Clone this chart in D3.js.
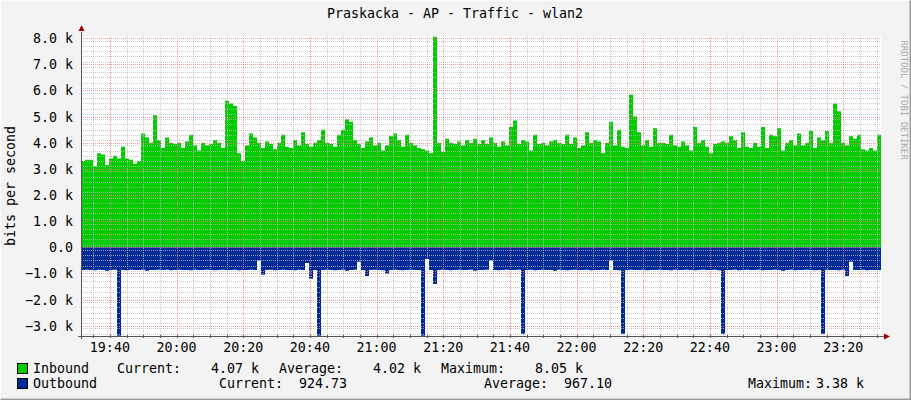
<!DOCTYPE html>
<html><head><meta charset="utf-8">
<script src="https://cdn.jsdelivr.net/npm/d3@7"></script>
<style>body{margin:0;background:#f3f3f3}svg{display:block}text{font-family:"DejaVu Sans Mono",monospace;fill:#000}</style>
</head><body><svg id="c" width="911" height="400"></svg>
<script>
const title = "Praskacka - AP - Traffic - wlan2";
const yLabel = "bits per second";
const startTime = "19:31:20";
const stepSeconds = 72;
const inbound = [
3.3,3.35,3.35,3.1,3.6,3.55,3.15,3.4,3.5,3.4,
3.85,3.4,3.35,3.2,3.3,4.35,4.2,4.0,5.05,4.1,
3.8,4.2,4.0,3.95,4.0,3.8,4.05,4.3,3.9,3.7,
4.0,3.9,3.95,4.1,4.0,3.8,5.6,5.5,5.4,3.6,
3.3,3.9,4.35,4.2,4.0,3.8,4.05,3.95,3.75,4.0,
4.3,3.85,3.8,4.1,3.9,4.4,3.95,3.85,4.0,4.1,
4.5,4.0,3.95,3.85,4.3,4.5,4.9,4.8,4.1,3.95,
3.8,4.05,4.2,3.9,4.0,3.7,3.9,4.25,4.35,4.1,
3.85,4.3,4.0,3.9,3.8,3.75,3.7,3.6,8.05,4.0,
3.65,4.15,4.0,3.95,4.05,3.9,4.1,4.0,4.15,3.95,
4.1,3.95,4.2,4.0,3.85,4.05,3.9,4.6,4.85,3.95,
4.1,4.05,3.7,4.3,3.95,4.0,3.9,4.05,4.1,4.0,
3.95,4.3,3.95,4.2,3.8,3.9,4.4,4.0,4.1,4.05,
3.6,4.0,4.8,3.9,4.5,3.85,3.8,5.83,5.0,4.4,
3.9,4.1,3.85,4.55,4.0,4.0,3.95,4.3,3.9,3.85,
4.05,3.9,3.7,4.6,4.0,4.1,3.85,3.6,3.95,4.0,
4.05,4.0,4.25,4.1,3.8,4.4,3.85,3.8,4.0,3.85,
4.6,3.8,4.3,4.25,4.55,3.7,4.0,4.1,3.9,4.35,
3.9,4.0,4.45,3.8,4.2,4.1,4.45,4.0,5.5,5.2,
4.0,3.9,4.25,4.15,4.3,3.75,3.7,3.8,3.7,4.3];
const outbound = [
0.87,0.86,0.87,0.88,0.86,0.87,0.9,0.87,0.86,3.38,
0.87,0.88,0.86,0.87,0.87,0.86,0.9,0.87,0.87,0.86,
0.87,0.86,0.88,0.87,0.86,0.87,0.87,0.88,0.86,0.87,
0.87,0.86,0.87,0.88,0.87,0.86,0.87,0.87,0.86,0.88,
0.87,0.87,0.86,0.87,0.5,1.05,0.87,0.86,0.88,0.87,
0.86,0.87,0.87,0.88,0.86,0.87,0.6,1.2,0.87,3.38,
0.87,0.86,0.87,0.88,0.87,0.86,0.9,0.87,0.86,0.55,
0.87,1.1,0.87,0.86,0.87,0.88,1.0,0.87,0.86,0.87,
0.88,0.87,0.86,0.87,0.87,3.38,0.45,0.87,1.4,0.87,
0.86,0.87,0.88,0.87,0.86,0.87,0.87,0.86,0.9,0.87,
0.87,0.86,0.5,0.87,0.88,0.87,0.86,0.87,0.87,0.86,
3.3,0.87,0.86,0.88,0.87,0.86,0.87,0.87,0.9,0.86,
0.87,0.88,0.87,0.86,0.87,0.87,0.86,0.88,0.87,0.87,
0.86,0.87,0.5,0.87,0.88,3.3,0.87,0.86,0.87,0.87,
0.86,0.88,0.87,0.87,0.86,0.87,0.87,0.88,0.86,0.87,
0.87,0.86,0.87,0.88,0.87,0.86,0.87,0.87,0.86,0.88,
3.3,0.87,0.87,0.86,0.88,0.87,0.86,0.87,0.87,0.86,
0.88,0.87,0.87,0.86,0.87,0.9,0.87,0.86,0.88,0.87,
0.87,0.86,0.87,0.88,0.87,3.3,0.86,0.87,0.87,0.88,
0.86,1.1,0.55,0.87,0.87,0.86,0.88,0.87,0.87,0.87];
const yTicks = [-3,-2,-1,0,1,2,3,4,5,6,7,8];
const xTickLabels = ["19:40","20:00","20:20","20:40","21:00","21:20","21:40","22:00","22:20","22:40","23:00","23:20"];
const legendIn = {name:"Inbound", cur:"4.07 k", avg:"4.02 k", max:"8.05 k"};
const legendOut = {name:"Outbound", cur:"924.73", avg:"967.10", max:"3.38 k"};

const svg = d3.select("#c");
const L=81,R=881,T=36,B=336;
const parse = d3.timeParse("%H:%M:%S");
const t0 = parse(startTime);
const tAt = i => new Date(t0.getTime()+i*stepSeconds*1000);
const tEnd = tAt(inbound.length);
const x = d3.scaleTime().domain([t0,tEnd]).range([L,R]);
const y = d3.scaleLinear().domain([-3.39,8.08]).range([B,T]);

// frame
svg.append("rect").attr("x",0.5).attr("y",0.5).attr("width",909).attr("height",398).attr("fill","#f3f3f3").attr("stroke","#fcfcfc");
svg.append("path").attr("d","M910.5,0.5V399.5H0.5").attr("fill","none").attr("stroke","#9a9a9a").attr("stroke-width",2);
svg.append("rect").attr("x",L).attr("y",T).attr("width",R-L).attr("height",B-T).attr("fill","#fff");

// data areas
const ext = inbound.concat([inbound[inbound.length-1]]);
const exto = outbound.concat([outbound[outbound.length-1]]);
svg.append("path").datum(ext).attr("fill","#00cc00")
 .attr("d",d3.area().curve(d3.curveStepAfter).x((d,i)=>x(tAt(i))).y0(y(0)).y1(d=>y(d)));
svg.append("path").datum(exto).attr("fill","#002a97")
 .attr("d",d3.area().curve(d3.curveStepAfter).x((d,i)=>x(tAt(i))).y0(y(0)).y1(d=>y(-d)));

// grid
const g = svg.append("g").attr("shape-rendering","crispEdges");
const minorX = x.ticks(d3.timeMinute.every(5));
minorX.forEach(t=>{ if(t.getMinutes()%20) g.append("line").attr("x1",Math.round(x(t))+0.5).attr("x2",Math.round(x(t))+0.5).attr("y1",T).attr("y2",B).attr("stroke","#bbb").attr("stroke-dasharray","1,1").attr("stroke-opacity",0.8);});
d3.range(-33,81,2).forEach(v=>{ if(v%10) { const yy=Math.round(y(v/10))+0.5; if(yy>T&&yy<B) g.append("line").attr("x1",L).attr("x2",R).attr("y1",yy).attr("y2",yy).attr("stroke","#bbb").attr("stroke-dasharray","1,1").attr("stroke-opacity",0.8);}});
const majorX = x.ticks(d3.timeMinute.every(20));
majorX.forEach(t=>g.append("line").attr("x1",Math.round(x(t))+0.5).attr("x2",Math.round(x(t))+0.5).attr("y1",T).attr("y2",B).attr("stroke","#f08080").attr("stroke-dasharray","1,1").attr("stroke-opacity",0.8));
yTicks.forEach(v=>g.append("line").attr("x1",L).attr("x2",R).attr("y1",Math.round(y(v))+0.5).attr("y2",Math.round(y(v))+0.5).attr("stroke","#f08080").attr("stroke-dasharray","1,1").attr("stroke-opacity",0.8));

// axes
const ax = svg.append("g").attr("shape-rendering","crispEdges");
ax.append("line").attr("x1",L+0.5).attr("x2",L+0.5).attr("y1",T-4).attr("y2",B+3).attr("stroke","#555");
ax.append("line").attr("x1",L-3).attr("x2",R+4).attr("y1",B+0.5).attr("y2",B+0.5).attr("stroke","#555");
minorX.forEach(t=>ax.append("line").attr("x1",Math.round(x(t))+0.5).attr("x2",Math.round(x(t))+0.5).attr("y1",B-1).attr("y2",B+2).attr("stroke","#555"));
svg.append("path").attr("d",`M${L-2.5},${T-5}L${L+3.5},${T-5}L${L+0.5},${T-11}Z`).attr("fill","#a00000");
svg.append("path").attr("d",`M${R+3},${B-2.5}L${R+3},${B+3.5}L${R+9},${B+0.5}Z`).attr("fill","#a00000");

const fs="13.3px";
yTicks.forEach(v=>svg.append("text").attr("x",73).attr("y",y(v)+5).attr("text-anchor","end").attr("font-size",fs)
  .text(v===0?"0.0":d3.format(".1f")(v)+" k"));
majorX.forEach((t,i)=>svg.append("text").attr("x",x(t)).attr("y",352).attr("text-anchor","middle").attr("font-size",fs).text(xTickLabels[i]));

svg.append("text").attr("x",455).attr("y",18).attr("text-anchor","middle").attr("font-size",fs).text(title);
svg.append("text").attr("transform","translate(15,186) rotate(-90)").attr("text-anchor","middle").attr("font-size",fs).text(yLabel);
svg.append("text").attr("transform","translate(901,100) rotate(90)").attr("text-anchor","middle").attr("font-size","9px").style("fill","#aaa").text("RRDTOOL / TOBI OETIKER");

// legend
function box(yy,c){svg.append("rect").attr("x",17.5).attr("y",yy+0.5).attr("width",10).attr("height",10).attr("fill",c).attr("stroke","#000");}
function t(xx,yy,s,anchor){svg.append("text").attr("x",xx).attr("y",yy).attr("font-size",fs).attr("text-anchor",anchor||"start").text(s);}
box(363,"#00cc00"); box(378,"#002a97");
t(33,373,legendIn.name); t(117,373,"Current:"); t(259,373,legendIn.cur,"end");
t(279,373,"Average:"); t(421,373,legendIn.avg,"end"); t(441,373,"Maximum:"); t(583,373,legendIn.max,"end");
t(33,388,legendOut.name); t(219,388,"Current:"); t(347,388,legendOut.cur,"end");
t(484,388,"Average:"); t(612,388,legendOut.avg,"end"); t(748,388,"Maximum:"); t(864,388,legendOut.max,"end");
</script></body></html>
